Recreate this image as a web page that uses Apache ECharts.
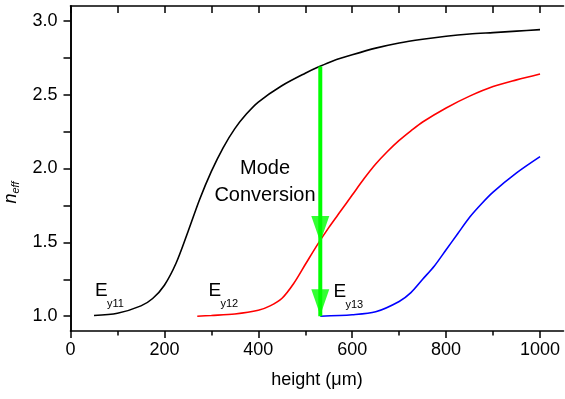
<!DOCTYPE html>
<html>
<head>
<meta charset="utf-8">
<script src="https://cdn.jsdelivr.net/npm/echarts@6/dist/echarts.min.js"></script>
<style>html,body{margin:0;padding:0;background:#fff}#c{width:565px;height:399px}</style>
</head>
<body>
<div id="c"></div>
<script>
// Data
var ey11X = [50, 100, 150, 175, 200, 225, 250, 275, 300, 325, 350, 375, 400, 450, 500, 530, 560, 600, 650, 700, 750, 800, 850, 900, 950, 1000];
var ey11Y = [1.005, 1.02, 1.07, 1.12, 1.21, 1.36, 1.57, 1.79, 1.98, 2.14, 2.27, 2.37, 2.45, 2.56, 2.645, 2.69, 2.73, 2.77, 2.815, 2.85, 2.875, 2.895, 2.91, 2.92, 2.93, 2.94];
var ey12X = [270, 300, 350, 400, 425, 450, 475, 500, 525, 550, 575, 600, 625, 650, 675, 700, 725, 750, 800, 850, 900, 950, 1000];
var ey12Y = [1.0, 1.005, 1.015, 1.04, 1.07, 1.12, 1.22, 1.35, 1.48, 1.60, 1.71, 1.82, 1.93, 2.03, 2.115, 2.19, 2.255, 2.315, 2.41, 2.49, 2.555, 2.60, 2.64];
var ey13X = [532, 600, 650, 700, 725, 750, 775, 800, 825, 850, 875, 900, 950, 1000];
var ey13Y = [1.0, 1.01, 1.03, 1.10, 1.16, 1.25, 1.34, 1.45, 1.56, 1.67, 1.76, 1.84, 1.97, 2.08];
var arrowX = 532;
var arrowTop = 2.69;
var arrowBottom = 1.0;
var arrowHeadY = [1.59, 1.095];

var xMajor = [0, 200, 400, 600, 800, 1000];
var xMinor = [100, 300, 500, 700, 900];
var xTop = [0, 100, 200, 300, 400, 500, 600, 700, 800, 900, 1000];
var yMajor = [1.0, 1.5, 2.0, 2.5, 3.0];
var yMinor = [1.25, 1.75, 2.25, 2.75];
var yRight = [1.0, 1.25, 1.5, 1.75, 2.0, 2.25, 2.5, 2.75, 3.0];

function zip(xs, ys) { return xs.map(function (x, i) { return [x, ys[i]]; }); }

var FONT = 'Liberation Sans, Arial, sans-serif';
var chart = echarts.init(document.getElementById('c'), null, {renderer: 'canvas'});
var axisLine = {show: true, lineStyle: {color: '#000', width: 1.6}};
var base = {type: 'value', min: 0, max: 1050, splitLine: {show: false}};
var ybase = {type: 'value', min: 0.9, max: 3.1, splitLine: {show: false}};

chart.setOption({
  animation: false,
  grid: {left: 70.5, right: 1.5, top: 6, bottom: 68, containLabel: false, outerBoundsMode: 'none'},
  xAxis: [
    Object.assign({}, base, {
      position: 'bottom', axisLine: axisLine,
      axisTick: {show: true, length: 7, lineStyle: {color: '#000', width: 1.5}, customValues: xMajor},
      axisLabel: {customValues: xMajor, color: '#000', fontSize: 18, fontFamily: FONT, margin: 10,
        formatter: function (v) { return String(v); }},
      name: 'height (\u03bcm)', nameLocation: 'middle', nameGap: 40,
      nameTextStyle: {color: '#000', fontSize: 18, fontFamily: FONT}
    }),
    Object.assign({}, base, {
      position: 'bottom', axisLine: {show: false},
      axisTick: {show: true, length: 4.5, lineStyle: {color: '#000', width: 1.5}, customValues: xMinor},
      axisLabel: {show: false}
    }),
    Object.assign({}, base, {
      position: 'top', axisLine: axisLine,
      axisTick: {show: true, inside: true, length: 7, lineStyle: {color: '#000', width: 1.5}, customValues: xTop},
      axisLabel: {show: false}
    })
  ],
  yAxis: [
    Object.assign({}, ybase, {
      position: 'left', axisLine: axisLine,
      axisTick: {show: true, length: 7, lineStyle: {color: '#000', width: 1.5}, customValues: yMajor},
      axisLabel: {customValues: yMajor, color: '#000', fontSize: 18, fontFamily: FONT, margin: 13,
        formatter: function (v) { return v.toFixed(1); }},
      name: '{n|n}{e|eff}', nameLocation: 'middle', nameGap: 47, nameRotate: 90,
      nameTextStyle: {padding: [0, 48, 0, 0], rich: {
        n: {fontSize: 18, fontStyle: 'italic', fontFamily: FONT, color: '#000', lineHeight: 22, verticalAlign: 'middle'},
        e: {fontSize: 11, fontStyle: 'italic', fontFamily: FONT, color: '#000', lineHeight: 11, verticalAlign: 'bottom'}
      }}
    }),
    Object.assign({}, ybase, {
      position: 'left', axisLine: {show: false},
      axisTick: {show: true, length: 4, lineStyle: {color: '#000', width: 1.5}, customValues: yMinor},
      axisLabel: {show: false}
    }),
    Object.assign({}, ybase, {
      position: 'right', axisLine: axisLine,
      axisTick: {show: true, inside: true, length: 7, lineStyle: {color: '#000', width: 1.5}, customValues: yRight},
      axisLabel: {show: false}
    })
  ],
  series: [
    {type: 'line', data: zip(ey11X, ey11Y), smooth: 0.3, showSymbol: false, lineStyle: {color: '#000', width: 1.6}, z: 3},
    {type: 'line', data: zip(ey12X, ey12Y), smooth: 0.3, showSymbol: false, lineStyle: {color: '#ff0000', width: 1.6}, z: 3},
    {type: 'line', data: zip(ey13X, ey13Y), smooth: 0.3, showSymbol: false, lineStyle: {color: '#0000ff', width: 1.6}, z: 3},
    {type: 'line', data: [[arrowX, arrowTop], [arrowX, arrowBottom]], showSymbol: false,
      lineStyle: {color: '#00ff00', width: 4}, z: 4},
    {type: 'scatter', data: arrowHeadY.map(function (y) { return [arrowX, y]; }), symbol: 'triangle',
      symbolRotate: 180, symbolSize: [18, 26], itemStyle: {color: '#00ff00'}, z: 5}
  ],
  graphic: [
    {type: 'text', x: 95, y: 290.5, style: {text: 'E', font: '19px ' + FONT, fill: '#000', verticalAlign: 'middle', align: 'left'}},
    {type: 'text', x: 107, y: 304, style: {text: 'y11', font: '11px ' + FONT, fill: '#000', verticalAlign: 'middle', align: 'left'}},
    {type: 'text', x: 208.5, y: 290.5, style: {text: 'E', font: '19px ' + FONT, fill: '#000', verticalAlign: 'middle', align: 'left'}},
    {type: 'text', x: 220.5, y: 304, style: {text: 'y12', font: '11px ' + FONT, fill: '#000', verticalAlign: 'middle', align: 'left'}},
    {type: 'text', x: 333.5, y: 291.5, style: {text: 'E', font: '19px ' + FONT, fill: '#000', verticalAlign: 'middle', align: 'left'}},
    {type: 'text', x: 345.5, y: 305, style: {text: 'y13', font: '11px ' + FONT, fill: '#000', verticalAlign: 'middle', align: 'left'}},
    {type: 'text', x: 265, y: 182, style: {text: 'Mode\nConversion', font: '20px ' + FONT, lineHeight: 26.5, fill: '#000', verticalAlign: 'middle', align: 'center'}}
  ]
});
</script>
</body>
</html>
